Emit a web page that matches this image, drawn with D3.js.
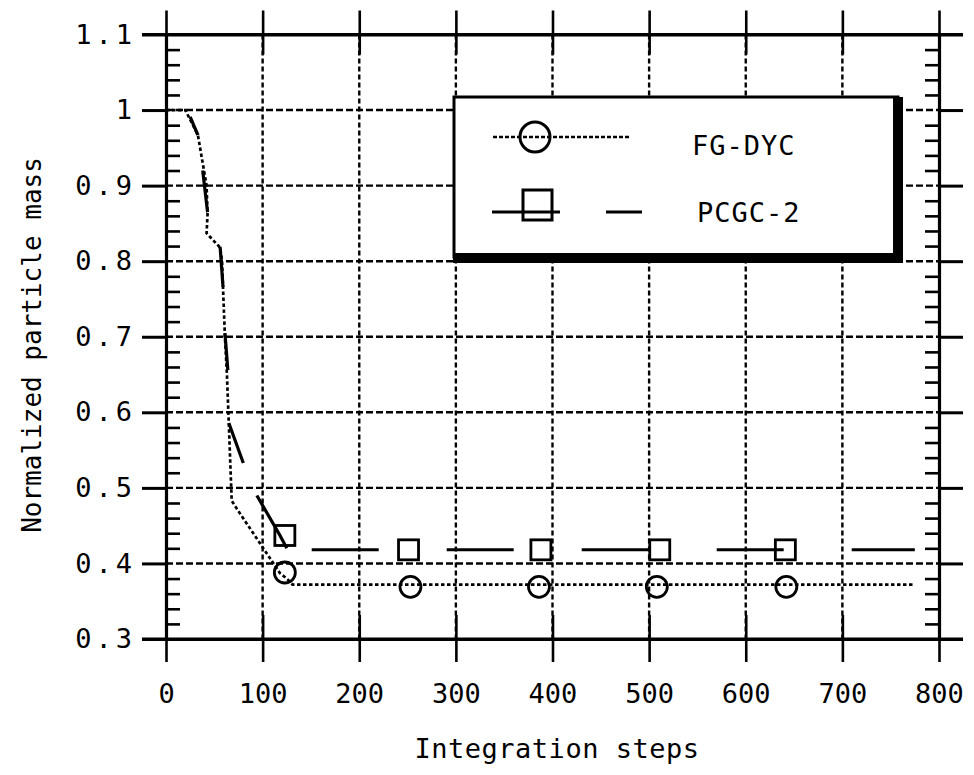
<!DOCTYPE html>
<html>
<head>
<meta charset="utf-8">
<script src="https://cdn.jsdelivr.net/npm/d3@7"></script>
<style>
  body { margin: 0; background: #fff; }
  text { font-family: "DejaVu Sans Mono", monospace; fill: #000; }
</style>
</head>
<body>
<div id="chart"></div>
<script>
// FG-DYC curve (integration step, normalized mass)
var fgSteps = [0, 20, 33, 42, 43, 42, 56, 58, 59, 61, 63, 65, 68, 73, 118, 125, 131, 775];
var fgMass  = [1.0, 1.0, 0.967, 0.9, 0.862, 0.837, 0.818, 0.8, 0.765, 0.70, 0.652, 0.585, 0.483, 0.473, 0.387, 0.38, 0.372, 0.372];
// FG-DYC circle markers
var fgMarkSteps = [123, 253, 386, 508, 642];
var fgMarkMass  = [0.388, 0.369, 0.369, 0.369, 0.369];

// PCGC-2 curve, steep part then flat part
var pcSteps = [0, 20, 25, 33, 38, 43, 56, 59, 61, 64, 65, 80, 94, 118, 125];
var pcMass  = [1.0, 1.0, 0.991, 0.967, 0.92, 0.865, 0.819, 0.766, 0.705, 0.656, 0.586, 0.533, 0.49, 0.437, 0.42];
var pcTailSteps = [125, 140, 775];
var pcTailMass  = [0.42, 0.418, 0.418];
// PCGC-2 square markers
var pcMarkSteps = [123, 251, 388, 511, 641];
var pcMarkMass  = [0.437, 0.418, 0.418, 0.418, 0.418];

var xTicks = [0, 100, 200, 300, 400, 500, 600, 700, 800];
var yTicks = [0.3, 0.4, 0.5, 0.6, 0.7, 0.8, 0.9, 1.0, 1.1];
var yTickLabels = ["0.3", "0.4", "0.5", "0.6", "0.7", "0.8", "0.9", "1", "1.1"];
var seriesNames = ["FG-DYC", "PCGC-2"];

var W = 974, H = 775;

var x = d3.scaleLinear().domain([0, 800]).range([166, 939]);
var y = d3.scaleLinear().domain([0.3, 1.1]).range([639, 34.5]);

var svg = d3.select("#chart").append("svg")
  .attr("width", W)
  .attr("height", H);

svg.append("rect").attr("width", W).attr("height", H).attr("fill", "#fff");

// dashed grid
var grid = svg.append("g").attr("class", "grid")
  .attr("stroke", "#000").attr("stroke-width", 2.4);
grid.selectAll(".vg")
  .data(xTicks.slice(1, -1))
  .enter().append("line")
  .attr("stroke-dasharray", "5,3")
  .attr("x1", function(d) { return x(d); })
  .attr("x2", function(d) { return x(d); })
  .attr("y1", y(1.1))
  .attr("y2", y(0.3));
grid.selectAll(".hg")
  .data(yTicks.slice(1, -1))
  .enter().append("line")
  .attr("stroke-dasharray", "7,3")
  .attr("x1", x(0))
  .attr("x2", x(800))
  .attr("y1", function(d) { return y(d); })
  .attr("y2", function(d) { return y(d); });

// legend box (covers the grid)
var legend = svg.append("g").attr("class", "legend");
legend.append("rect")
  .attr("x", 454).attr("y", 97)
  .attr("width", 444).attr("height", 160)
  .attr("fill", "#fff")
  .attr("stroke", "#000").attr("stroke-width", 3);
legend.append("rect")  // heavy shadow right
  .attr("x", 893).attr("y", 97).attr("width", 10).attr("height", 166).attr("fill", "#000");
legend.append("rect")  // heavy shadow bottom
  .attr("x", 453).attr("y", 253).attr("width", 450).attr("height", 10).attr("fill", "#000");

legend.append("line")
  .attr("x1", 493).attr("x2", 630).attr("y1", 137).attr("y2", 137)
  .attr("stroke", "#000").attr("stroke-width", 2.4).attr("stroke-dasharray", "4,2");
legend.append("circle")
  .attr("cx", 535).attr("cy", 137).attr("r", 15)
  .attr("fill", "none").attr("stroke", "#000").attr("stroke-width", 3);
legend.append("line")
  .attr("x1", 492).attr("x2", 560).attr("y1", 212).attr("y2", 212)
  .attr("stroke", "#000").attr("stroke-width", 3);
legend.append("line")
  .attr("x1", 606).attr("x2", 642).attr("y1", 212).attr("y2", 212)
  .attr("stroke", "#000").attr("stroke-width", 3);
legend.append("rect")
  .attr("x", 523).attr("y", 190).attr("width", 29).attr("height", 30)
  .attr("fill", "none").attr("stroke", "#000").attr("stroke-width", 3);
legend.selectAll(".ltext")
  .data(seriesNames)
  .enter().append("text")
  .attr("x", function(d, i) { return i ? 697 : 692; })
  .attr("y", function(d, i) { return i ? 222 : 155; })
  .attr("font-size", 27)
  .attr("letter-spacing", 1)
  .text(function(d) { return d; });

// curves
var line = d3.line()
  .x(function(d) { return x(d[0]); })
  .y(function(d) { return y(d[1]); });

svg.append("path")
  .datum(d3.zip(fgSteps, fgMass))
  .attr("d", line)
  .attr("fill", "none").attr("stroke", "#000")
  .attr("stroke-width", 2.7).attr("stroke-dasharray", "3.5,2.5");

// pen-up / pen-down lengths of the plotter dashes along the steep part
svg.append("path")
  .datum(d3.zip(pcSteps, pcMass))
  .attr("d", line)
  .attr("fill", "none").attr("stroke", "#000")
  .attr("stroke-width", 3.2)
  .attr("stroke-dasharray", "0,27.7,19.7,35.8,41.9,37,40.2,46.1,37.1,52.9,42.6,35.2,61,500");

svg.append("path")
  .datum(d3.zip(pcTailSteps, pcTailMass))
  .attr("d", line)
  .attr("fill", "none").attr("stroke", "#000")
  .attr("stroke-width", 3).attr("stroke-dasharray", "67,68").attr("stroke-dashoffset", 110);

// markers
svg.selectAll(".fgm")
  .data(d3.zip(fgMarkSteps, fgMarkMass))
  .enter().append("circle")
  .attr("cx", function(d) { return x(d[0]); })
  .attr("cy", function(d) { return y(d[1]); })
  .attr("r", 10.5)
  .attr("fill", "none").attr("stroke", "#000").attr("stroke-width", 2.8);

svg.selectAll(".pcm")
  .data(d3.zip(pcMarkSteps, pcMarkMass))
  .enter().append("rect")
  .attr("x", function(d) { return x(d[0]) - 10; })
  .attr("y", function(d) { return y(d[1]) - 10; })
  .attr("width", 20).attr("height", 20)
  .attr("fill", "none").attr("stroke", "#000").attr("stroke-width", 2.8);

// axes
function styleAxis(g, w) {
  g.select(".domain").attr("stroke-width", 3.2);
  g.selectAll(".tick line").attr("stroke-width", w);
}
function plainTicks(g) {
  g.select(".domain").remove();
  g.selectAll("line").attr("stroke-width", 2.6);
}

var minor = y.ticks(40).filter(function(v) {
  return yTicks.every(function(t) { return Math.abs(t - v) > 1e-6; });
});

var leftAxis = svg.append("g").attr("transform", "translate(" + x(0) + ",0)")
  .call(d3.axisLeft(y).tickValues(yTicks).tickSize(24).tickSizeOuter(0).tickPadding(6)
    .tickFormat(function(d, i) { return yTickLabels[i]; }));
styleAxis(leftAxis, 3);
leftAxis.selectAll("text")
  .attr("font-size", 27).attr("letter-spacing", 4)
  .attr("font-family", "DejaVu Sans Mono").attr("fill", "#000");

svg.append("g").attr("transform", "translate(" + x(0) + ",0)")
  .call(d3.axisRight(y).tickValues(minor).tickSize(14).tickFormat(""))
  .call(plainTicks);

var rightAxis = svg.append("g").attr("transform", "translate(" + x(800) + ",0)")
  .call(d3.axisRight(y).tickValues(yTicks).tickSize(24).tickSizeOuter(0).tickFormat(""));
styleAxis(rightAxis, 3);

svg.append("g").attr("transform", "translate(" + x(800) + ",0)")
  .call(d3.axisLeft(y).tickValues(minor).tickSize(14).tickFormat(""))
  .call(plainTicks);

var bottomAxis = svg.append("g").attr("transform", "translate(0," + y(0.3) + ")")
  .call(d3.axisBottom(x).tickValues(xTicks).tickSize(23).tickSizeOuter(0).tickPadding(22));
styleAxis(bottomAxis, 2.6);
bottomAxis.selectAll("text")
  .attr("font-size", 27).attr("font-family", "DejaVu Sans Mono").attr("fill", "#000");

var topAxis = svg.append("g").attr("transform", "translate(0," + y(1.1) + ")")
  .call(d3.axisTop(x).tickValues(xTicks).tickSize(24).tickSizeOuter(0).tickFormat(""));
styleAxis(topAxis, 2.6);

// solid inward stubs of the vertical grid lines
svg.append("g").attr("transform", "translate(0," + y(1.1) + ")")
  .call(d3.axisBottom(x).tickValues(xTicks.slice(1, -1)).tickSize(20).tickFormat(""))
  .call(plainTicks);
svg.append("g").attr("transform", "translate(0," + y(0.3) + ")")
  .call(d3.axisTop(x).tickValues(xTicks.slice(1, -1)).tickSize(24).tickFormat(""))
  .call(plainTicks);

// the frame lines run out past the corners like the plotter drew them
svg.append("g").attr("stroke", "#000").attr("stroke-width", 3.2)
  .selectAll("line")
  .data([1.1, 0.3])
  .enter().append("line")
  .attr("x1", x(0) - 24).attr("x2", x(800) + 24)
  .attr("y1", function(d) { return y(d); })
  .attr("y2", function(d) { return y(d); });

// axis titles
svg.append("text")
  .attr("x", 557).attr("y", 758)
  .attr("text-anchor", "middle")
  .attr("font-size", 27).attr("letter-spacing", 0.5)
  .text("Integration steps");

svg.append("text")
  .attr("transform", "translate(41,345) rotate(-90)")
  .attr("text-anchor", "middle")
  .attr("font-size", 26)
  .text("Normalized particle mass");
</script>
</body>
</html>
